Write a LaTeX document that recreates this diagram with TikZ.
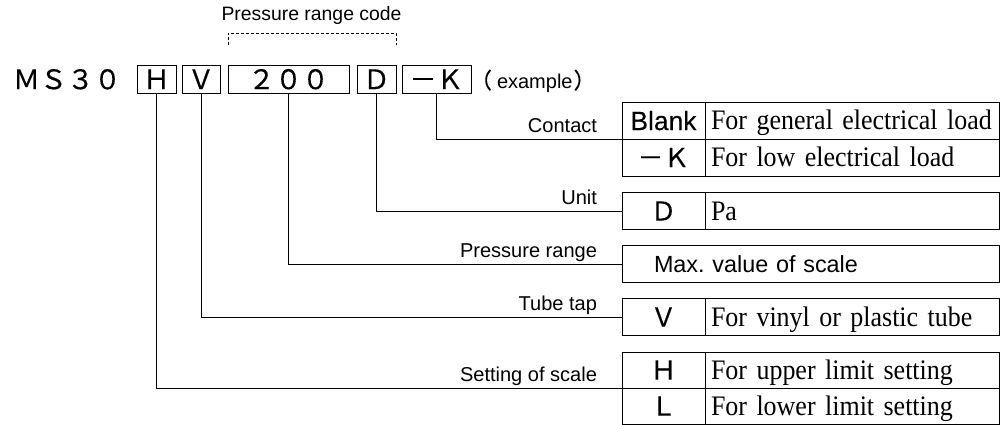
\documentclass[tikz,border=0pt]{standalone}
\usepackage{fontspec}
\setmainfont{Liberation Serif}
\newfontfamily\jfnt[FakeBold=0.3]{Noto Sans CJK JP}
\newfontfamily\lfnt{Liberation Sans}
\newfontfamily\bfnt[FakeBold=0.3]{Liberation Sans}
\newfontfamily\serfnt[FakeStretch=0.92]{Liberation Serif}
\newlength\tmpw
\frenchspacing
\begin{document}
\settowidth\tmpw{\serfnt\fontsize{20}{20}\selectfont For general electrical load}
\pgfmathsetmacro\sersz{20*272/\tmpw}
\pgfmathsetmacro\sercap{0.662*\sersz}
\settowidth\tmpw{\lfnt\fontsize{20}{20}\selectfont Setting of scale}
\pgfmathsetmacro\lblsz{20*137/\tmpw}
\settowidth\tmpw{\lfnt\fontsize{20}{20}\selectfont Max. value of scale}
\pgfmathsetmacro\maxsz{20*200/\tmpw}
\pgfmathsetmacro\maxcap{0.716*\maxsz}
\settowidth\tmpw{\lfnt\fontsize{20}{20}\selectfont Pressure range code}
\pgfmathsetmacro\prcsz{20*180/\tmpw}
\settowidth\tmpw{\bfnt\fontsize{20}{20}\selectfont Blank}
\pgfmathsetmacro\blsz{20*66/\tmpw}
\begin{tikzpicture}[x=1pt,y=-1pt,
  every node/.style={inner sep=0pt, outer sep=0pt},
  code/.style={draw, line width=0.9pt, minimum height=28.5pt,
    font=\jfnt\fontsize{27}{27}\selectfont, text height=19.8pt, text depth=0pt},
  lbl/.style={font=\lfnt\fontsize{\lblsz}{\lblsz}\selectfont, anchor=base east},
  cella/.style={draw, line width=0.9pt, minimum width=83pt, anchor=north west,
    font=\jfnt\fontsize{26}{26}\selectfont, text height=19.1pt, text depth=0pt},
  cellb/.style={draw, line width=0.9pt, anchor=north west, align=left,
    inner xsep=6pt, text width=282pt, font=\serfnt\fontsize{\sersz}{\sersz}\selectfont,
    text height=\sercap pt, text depth=0pt},
  conn/.style={line width=0.9pt}]
\useasboundingbox (0,0) rectangle (1003,425);

% code line
\node[anchor=base west, font=\jfnt\fontsize{27}{27}\selectfont] (ms) at (13,89.2) {ＭＳ３０};
\node[code, minimum width=39pt] (bh) at (156.5,79.25) {Ｈ};
\node[code, minimum width=38pt] (bv) at (201,79.25) {Ｖ};
\node[code, minimum width=121pt] (b200) at (288.5,79.25) {２００};
\node[code, minimum width=39pt] (bd) at (376.5,79.25) {Ｄ};
\node[code, minimum width=69pt] (bk) at (436.5,79.25) {－Ｋ};
\node[anchor=base west] (ex) at (470,88.5) {{\jfnt\fontsize{22}{22}\selectfont （}\hspace{5pt}{\lfnt\fontsize{20}{20}\selectfont example}\hspace{1pt}{\jfnt\fontsize{22}{22}\selectfont ）}};

% pressure range code bracket
\node[font=\lfnt\fontsize{\prcsz}{\prcsz}\selectfont, anchor=base] (prc) at (311.5,21) {Pressure range code};
\draw[line width=0.8pt, dash pattern=on 3pt off 2pt] (b200.west |- 0,45) -- (b200.west |- 0,33) -- (bd.east |- 0,33) -- (bd.east |- 0,45);

% table: contact
\node[cella, minimum height=37pt, font=\bfnt\fontsize{\blsz}{\blsz}\selectfont] (c1a) at (622,102) {Blank};
\node[cellb, minimum height=37pt] (c2a) at (705,102) {For general electrical load};
\node[cella, minimum height=37pt] (c1b) at (622,139) {－Ｋ};
\node[cellb, minimum height=37pt] (c2b) at (705,139) {For low electrical load};
% unit
\node[cella, minimum height=37pt] (d1) at (622,192.5) {Ｄ};
\node[cellb, minimum height=37pt] (d2) at (705,192.5) {Pa};
% pressure range
\node[draw, line width=0.9pt, anchor=north west, minimum height=37pt, align=left,
  inner xsep=32pt, text width=313pt, font=\lfnt\fontsize{\maxsz}{\maxsz}\selectfont,
  text height=\maxcap pt, text depth=0pt] (mx) at (622,245.5) {Max.\ value of scale};
% tube tap
\node[cella, minimum height=37pt] (v1) at (622,298.5) {Ｖ};
\node[cellb, minimum height=37pt] (v2) at (705,298.5) {For vinyl or plastic tube};
% setting of scale
\node[cella, minimum height=36pt] (h1) at (622,352) {Ｈ};
\node[cellb, minimum height=36pt] (h2) at (705,352) {For upper limit setting};
\node[cella, minimum height=36pt] (l1) at (622,388) {Ｌ};
\node[cellb, minimum height=36pt] (l2) at (705,388) {For lower limit setting};

% labels
\node[lbl] (lc) at (597,132) {Contact};
\node[lbl] (lu) at (597,204) {Unit};
\node[lbl] (lp) at (597,257) {Pressure range};
\node[lbl] (lt) at (597,310) {Tube tap};
\node[lbl] (ls) at (597,381) {Setting of scale};

% connectors
\draw[conn] (bk.south) |- (c1a.south west);
\draw[conn] (bd.south) |- (d1.west);
\draw[conn] (b200.south) |- (mx.west);
\draw[conn] (bv.south) |- (v1.west);
\draw[conn] (bh.south) |- (h1.south west);
\end{tikzpicture}
\end{document}
